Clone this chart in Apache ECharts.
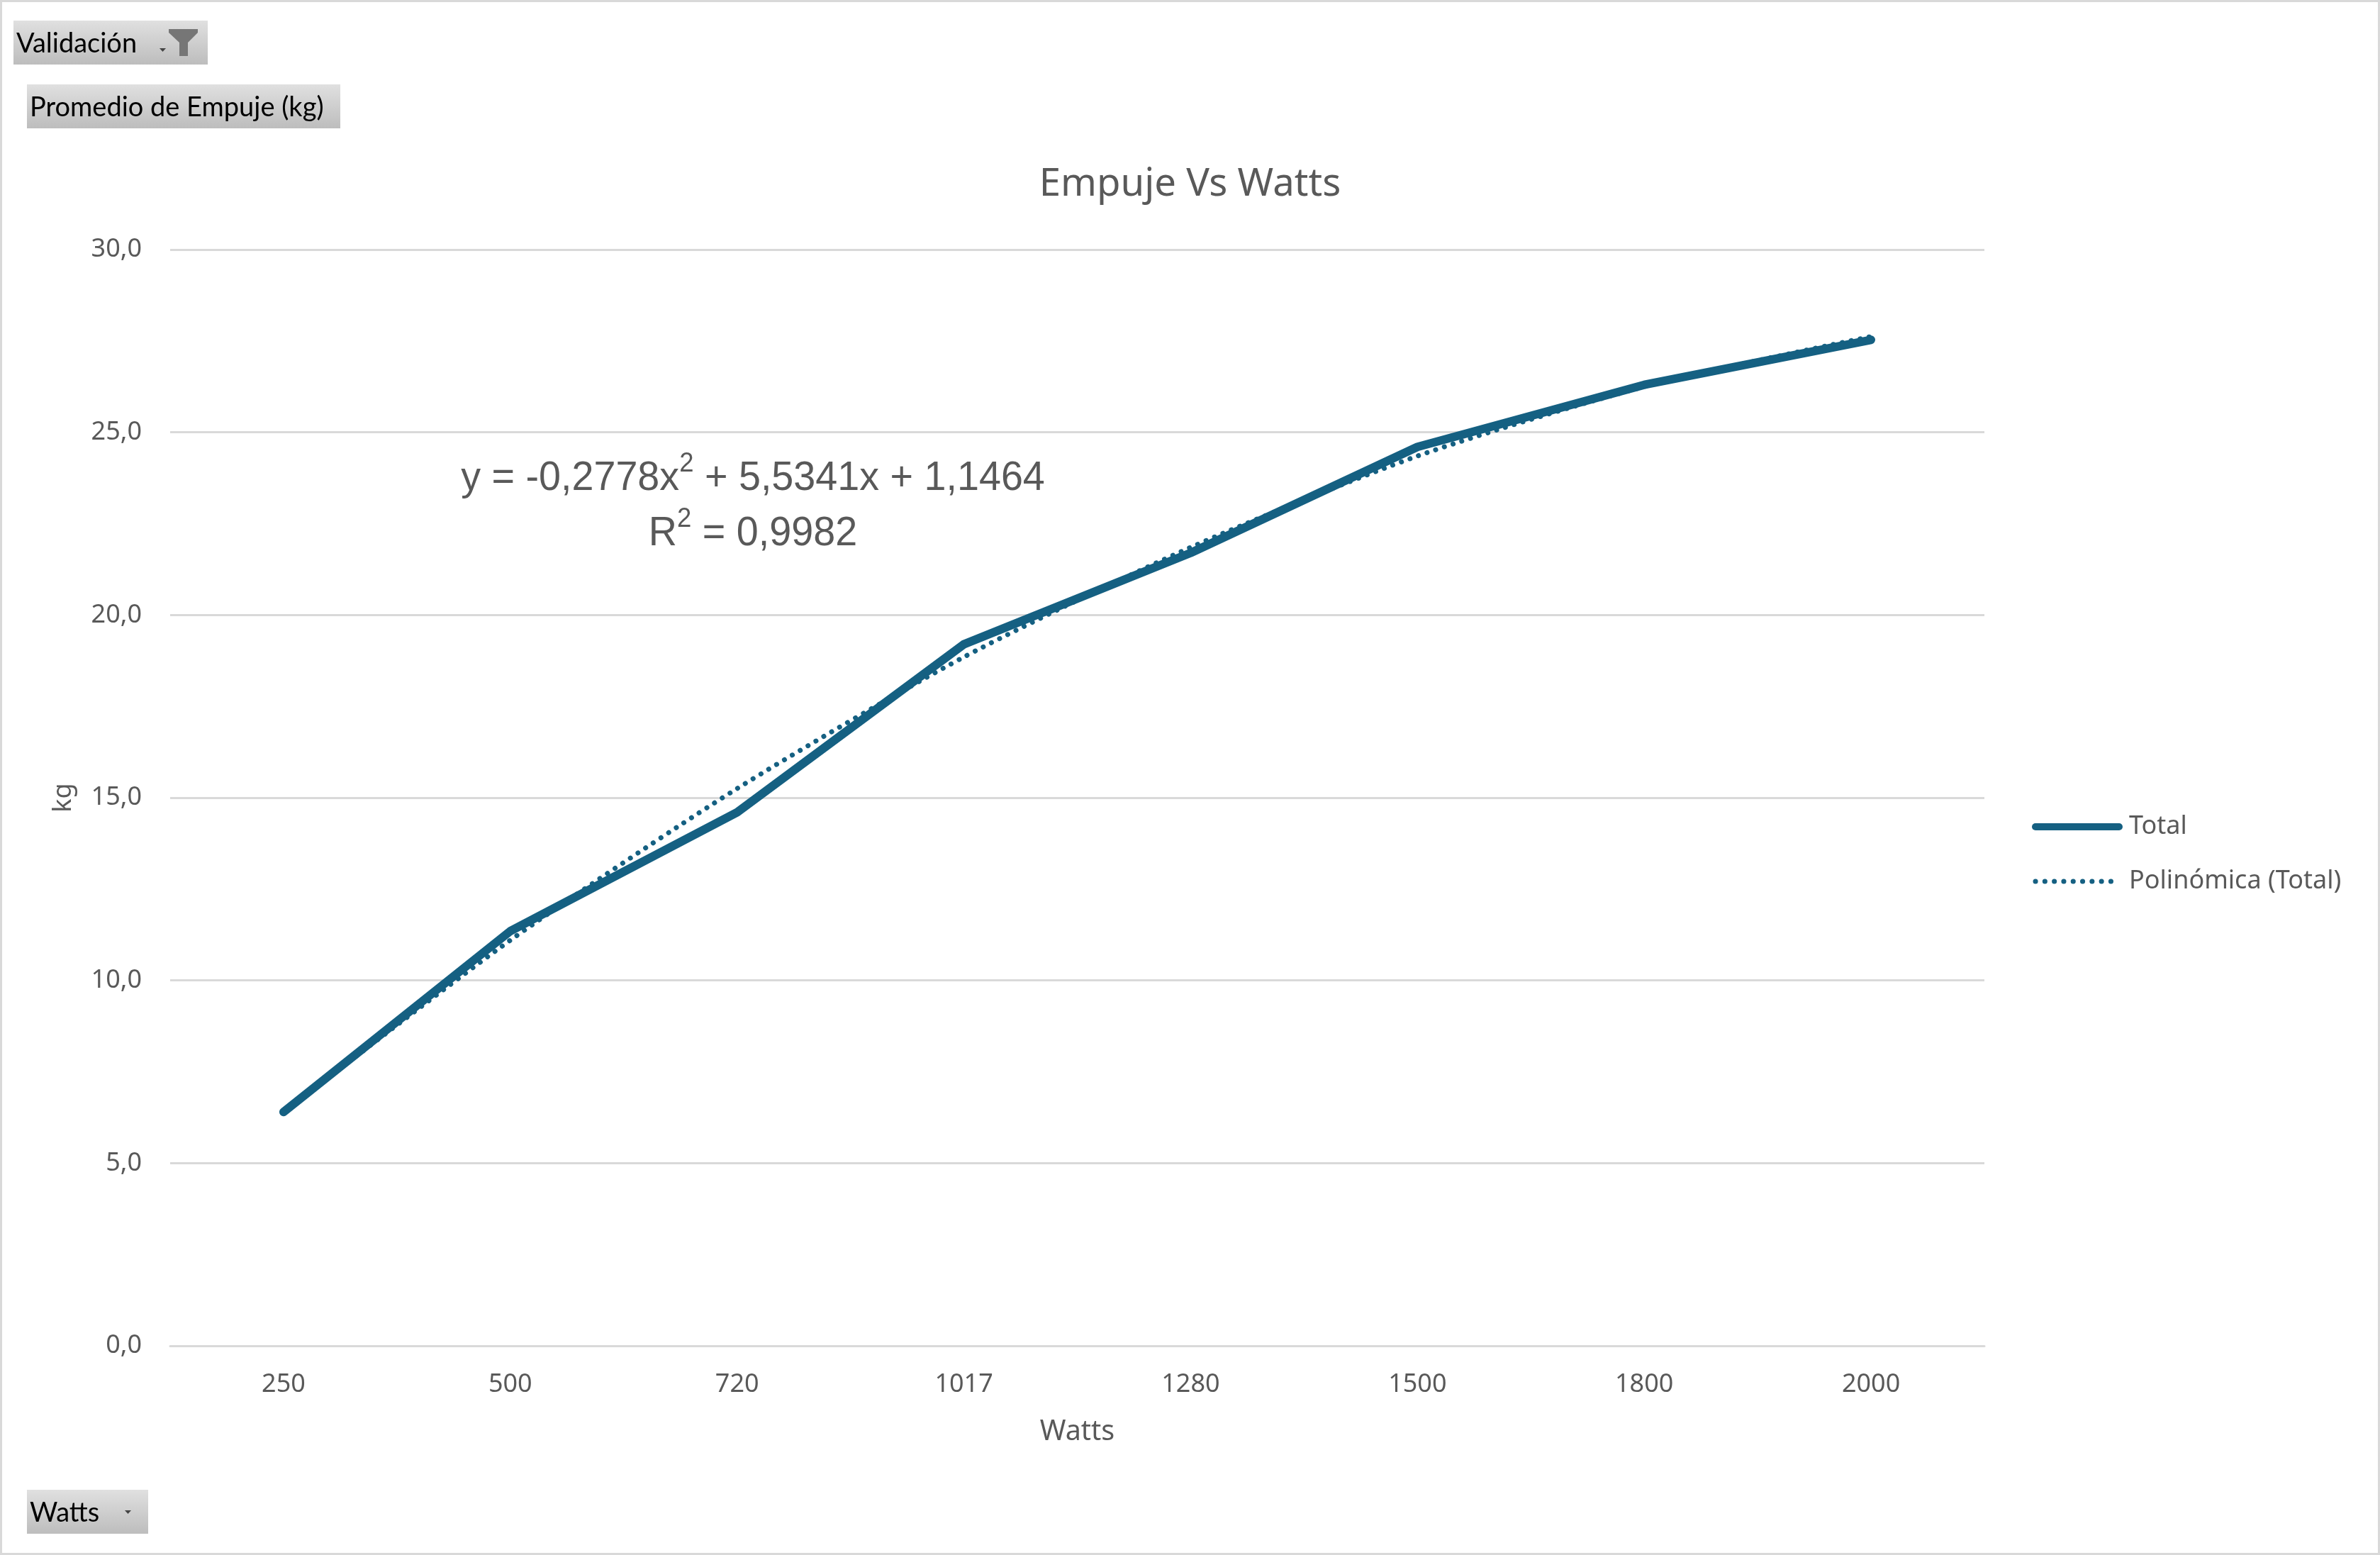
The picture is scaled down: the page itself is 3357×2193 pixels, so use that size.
<!DOCTYPE html>
<html><head><meta charset="utf-8">
<style>html,body{margin:0;padding:0;background:#fff}#c{width:3357px;height:2193px}</style>
<script src="https://cdn.jsdelivr.net/npm/echarts@6/dist/echarts.min.js"></script>
</head><body><div id="c"></div>
<script>
const categories = ['250','500','720','1017','1280','1500','1800','2000'];
const totalValues = [6.4, 11.35, 14.6, 19.2, 21.7, 24.6, 26.3, 27.53];
const trendValues = [6.4, 11.1, 15.25, 18.85, 21.85, 24.35, 26.25, 27.62];
const yTicks = {min: 0, max: 30, interval: 5};
const titleText = 'Empuje Vs Watts';
const xName = 'Watts';
const yName = 'kg';
const seriesNames = ['Total', 'Polinómica (Total)'];

const FONT = '"Noto Sans", "Open Sans", sans-serif';
const EQ_FONT = '"Liberation Sans", sans-serif';
const INK = '#595959', BLUE = '#156082', GRID = '#d9d9d9';
const btnFill = {type:'linear',x:0,y:0,x2:0,y2:1,colorStops:[{offset:0,color:'#e0e0e0'},{offset:1,color:'#bdbdbd'}]};

function button(x,y,w,h,label){
  return [
    {type:'rect',shape:{x,y,width:w,height:h},style:{fill:btnFill},silent:true},
    {type:'text',x:x+4,y:y+h/2+2,style:{text:label,font:'38px Lato, sans-serif',fill:'#000',textVerticalAlign:'middle'},silent:true}
  ];
}
function caret(x,y){
  return {type:'polygon',shape:{points:[[x,y],[x+9,y],[x+4.5,y+5]]},style:{fill:'#444'},silent:true};
}

const chart = echarts.init(document.getElementById('c'));
chart.setOption({
  animation:false,
  backgroundColor:'#fff',
  textStyle:{fontFamily:FONT},
  title:{text:titleText,left:'center',top:228,textStyle:{fontSize:54.5,fontWeight:'normal',color:INK,fontFamily:FONT}},
  grid:{left:240,top:352,width:2559,height:1546,containLabel:false},
  xAxis:{type:'category',data:categories,boundaryGap:true,
    name:xName,nameLocation:'middle',nameGap:102,
    nameTextStyle:{fontSize:39.5,color:INK,fontFamily:FONT},
    axisLine:{lineStyle:{color:GRID,width:3}},axisTick:{show:false},
    axisLabel:{fontSize:36,color:INK,margin:37,fontFamily:FONT}},
  yAxis:{type:'value',min:yTicks.min,max:yTicks.max,interval:yTicks.interval,
    name:yName,nameLocation:'middle',nameGap:132,
    nameTextStyle:{fontSize:36,color:INK,fontFamily:FONT},
    axisLine:{show:false},axisTick:{show:false},
    splitLine:{lineStyle:{color:GRID,width:3}},
    axisLabel:{fontSize:36,color:INK,margin:40,padding:[6,0,0,0],fontFamily:FONT,
      formatter:v=>v.toFixed(1).replace('.',',')}},
  legend:{orient:'vertical',left:2866,top:1148,itemWidth:118,itemHeight:36,itemGap:41,padding:0,
    data:[
      {name:seriesNames[0],lineStyle:{width:10},itemStyle:{opacity:0}},
      {name:seriesNames[1],lineStyle:{width:7,type:[0.1,13.2]},itemStyle:{opacity:0}}
    ],
    textStyle:{fontSize:36,color:INK,fontFamily:FONT,padding:[0,0,0,9]}},
  series:[
    {name:seriesNames[0],type:'line',data:totalValues,symbol:'none',z:3,
      lineStyle:{color:BLUE,width:12,cap:'round',join:'round'},itemStyle:{color:BLUE}},
    {name:seriesNames[1],type:'line',data:trendValues,symbol:'none',smooth:0.25,z:4,
      lineStyle:{color:BLUE,width:7,type:[0.1,12.8],cap:'round'},itemStyle:{color:BLUE}}
  ],
  graphic:[
    {type:'rect',shape:{x:1.5,y:1.5,width:3354,height:2190},style:{fill:'none',stroke:'#d9d9d9',lineWidth:3},silent:true},
    ...button(19,29,274,62,'Validación'),
    caret(225,68),
    {type:'polygon',shape:{points:[[238,41],[279,41],[279,46],[265,60],[265,79],[253,79],[253,60],[238,46]]},style:{fill:'#767676'},silent:true},
    ...button(38,119,442,62,'Promedio de Empuje (kg)'),
    ...button(38,2101,171,62,xName),
    caret(176,2130),
    {type:'text',x:1062,y:714,scaleX:0.96,style:{
      text:'{m|y = -0,2778x}{s|2}{m| + 5,5341x + 1,1464}\n{m|R}{s|2}{m| = 0,9982}',
      textAlign:'center',textVerticalAlign:'middle',
      fill:INK,
      rich:{m:{fontSize:58,fontFamily:EQ_FONT,fill:INK,lineHeight:78,verticalAlign:'middle'},
            s:{fontSize:38,fontFamily:EQ_FONT,fill:INK,lineHeight:50,verticalAlign:'top'}}},silent:true}
  ]
});
</script></body></html>
